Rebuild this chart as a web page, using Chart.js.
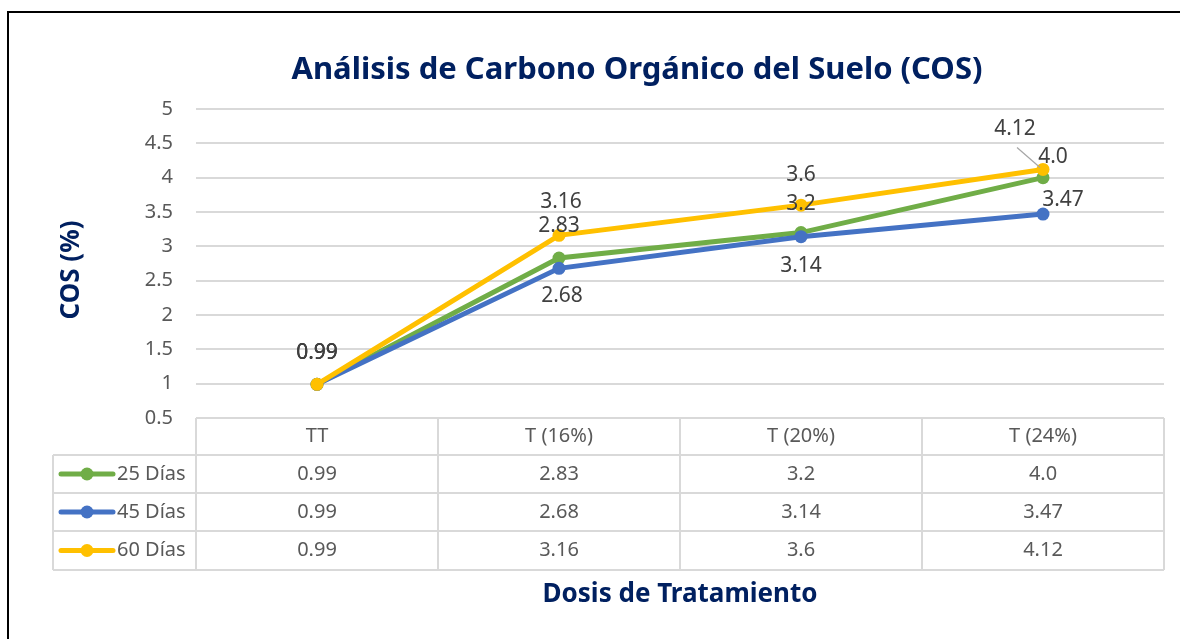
<!DOCTYPE html>
<html>
<head>
<meta charset="utf-8">
<script src="https://cdn.jsdelivr.net/npm/chart.js@4.4.1/dist/chart.umd.min.js"></script>
<style>
  html, body { margin: 0; padding: 0; background: #fff; }
  #wrap { width: 1180px; height: 639px; position: relative; }
</style>
</head>
<body>
<div id="wrap"><canvas id="cosChart" width="1180" height="639"></canvas></div>
<script>
// datos del grafico
const categorias = ['TT', 'T (16%)', 'T (20%)', 'T (24%)'];
const series = ['25 Días', '45 Días', '60 Días'];
const dias25 = [0.99, 2.83, 3.2, 4.0];
const dias45 = [0.99, 2.68, 3.14, 3.47];
const dias60 = [0.99, 3.16, 3.6, 4.12];
const textos25 = ['0.99', '2.83', '3.2', '4.0'];
const textos45 = ['0.99', '2.68', '3.14', '3.47'];
const textos60 = ['0.99', '3.16', '3.6', '4.12'];

const colores = ['#70AD47', '#4472C4', '#FFC000'];
const FONT = '"Noto Sans", "Open Sans", sans-serif';

// where each data label sits relative to its point (dx, dy)
const offsets = [
  [[0, -31], [0, -32], [0, -29], [10, -21]],
  [[0, -31], [3, 28], [0, 29], [20, -14]],
  [[0, -31], [2, -33], [0, -30], [-28, -40]]
];

const valores = [dias25, dias45, dias60];
const textos = [textos25, textos45, textos60];

// etiquetas, tabla, titulos y marco
const extras = {
  id: 'extras',
  afterDatasetsDraw(chart) {
    const ctx = chart.ctx;
    const x = chart.scales.x, y = chart.scales.y;
    ctx.save();
    ctx.font = '21px ' + FONT;
    ctx.fillStyle = '#404040';
    ctx.textAlign = 'center';
    ctx.textBaseline = 'middle';
    // leader line for 4.12
    const px = x.getPixelForValue(3), py = y.getPixelForValue(dias60[3]);
    ctx.strokeStyle = '#A6A6A6';
    ctx.lineWidth = 1.2;
    ctx.beginPath();
    ctx.moveTo(px - 26, py - 22);
    ctx.lineTo(px - 3, py - 2);
    ctx.stroke();
    valores.forEach((arr, s) => {
      arr.forEach((v, i) => {
        const o = offsets[s][i];
        ctx.fillText(textos[s][i], x.getPixelForValue(i) + o[0], y.getPixelForValue(v) + o[1]);
      });
    });
    ctx.restore();
  },
  afterDraw(chart) {
    const ctx = chart.ctx;
    const x = chart.scales.x;
    const area = chart.chartArea;
    const top = area.bottom;
    const rowH = [37, 38, 38, 39];
    const labelLeft = 53;
    ctx.save();

    // tabla
    ctx.strokeStyle = '#D9D9D9';
    ctx.lineWidth = 2;
    const ys = [top];
    rowH.forEach(h => ys.push(ys[ys.length - 1] + h));
    ctx.beginPath();
    ctx.moveTo(area.left, ys[0]); ctx.lineTo(area.right, ys[0]);
    for (let r = 1; r < ys.length; r++) {
      ctx.moveTo(labelLeft, ys[r]); ctx.lineTo(area.right, ys[r]);
    }
    const step = (area.right - area.left) / categorias.length;
    for (let c = 0; c <= categorias.length; c++) {
      const cx = area.left + c * step;
      ctx.moveTo(cx, ys[0]); ctx.lineTo(cx, ys[ys.length - 1]);
    }
    ctx.moveTo(labelLeft, ys[1]); ctx.lineTo(labelLeft, ys[ys.length - 1]);
    ctx.stroke();

    ctx.font = '20px ' + FONT;
    ctx.fillStyle = '#595959';
    ctx.textAlign = 'center';
    ctx.textBaseline = 'middle';
    categorias.forEach((c, i) => ctx.fillText(c, x.getPixelForValue(i), (ys[0] + ys[1]) / 2));
    valores.forEach((arr, s) => {
      const cy = (ys[s + 1] + ys[s + 2]) / 2;
      arr.forEach((v, i) => ctx.fillText(textos[s][i], x.getPixelForValue(i), cy));
      // legend key
      ctx.strokeStyle = colores[s];
      ctx.lineWidth = 5;
      ctx.lineCap = 'round';
      ctx.beginPath();
      ctx.moveTo(61, cy); ctx.lineTo(113, cy);
      ctx.stroke();
      ctx.fillStyle = colores[s];
      ctx.beginPath();
      ctx.arc(87, cy, 6.5, 0, Math.PI * 2);
      ctx.fill();
      ctx.fillStyle = '#595959';
      ctx.textAlign = 'left';
      ctx.fillText(series[s], 117, cy);
      ctx.textAlign = 'center';
    });

    // titulos
    ctx.fillStyle = '#002060';
    ctx.font = 'bold 31px ' + FONT;
    ctx.fillText('Análisis de Carbono Orgánico del Suelo (COS)', 637, 70);
    ctx.font = 'bold 26px ' + FONT;
    ctx.fillText('Dosis de Tratamiento', 680, 595);
    ctx.save();
    ctx.translate(72, 270);
    ctx.rotate(-Math.PI / 2);
    ctx.fillText('COS (%)', 0, 0);
    ctx.restore();

    // marco
    ctx.strokeStyle = '#000';
    ctx.lineWidth = 2;
    ctx.beginPath();
    ctx.moveTo(8, 639); ctx.lineTo(8, 12); ctx.lineTo(1180, 12);
    ctx.stroke();
    ctx.restore();
  }
};

const datasets = series.map((name, s) => ({
  label: name,
  data: valores[s],
  borderColor: colores[s],
  backgroundColor: colores[s],
  borderWidth: 5,
  pointRadius: 6.5,
  pointHoverRadius: 6.5,
  pointBorderWidth: 0,
  tension: 0,
  order: 3 - s
}));

new Chart(document.getElementById('cosChart'), {
  type: 'line',
  data: { labels: categorias, datasets: datasets },
  options: {
    responsive: false,
    animation: false,
    events: [],
    layout: { padding: { left: 0, top: 109, right: 16, bottom: 221 } },
    plugins: { legend: { display: false }, title: { display: false }, tooltip: { enabled: false } },
    scales: {
      x: { display: false, offset: true },
      y: {
        min: 0.5,
        max: 5,
        ticks: {
          stepSize: 0.5,
          color: '#595959',
          font: { family: FONT, size: 20 },
          padding: 23,
          callback: v => String(Math.round(v * 10) / 10)
        },
        grid: { color: '#D9D9D9', lineWidth: 2, drawTicks: false },
        border: { display: false },
        afterFit(scale) { scale.width = 196; }
      }
    }
  },
  plugins: [extras]
});
</script>
</body>
</html>
